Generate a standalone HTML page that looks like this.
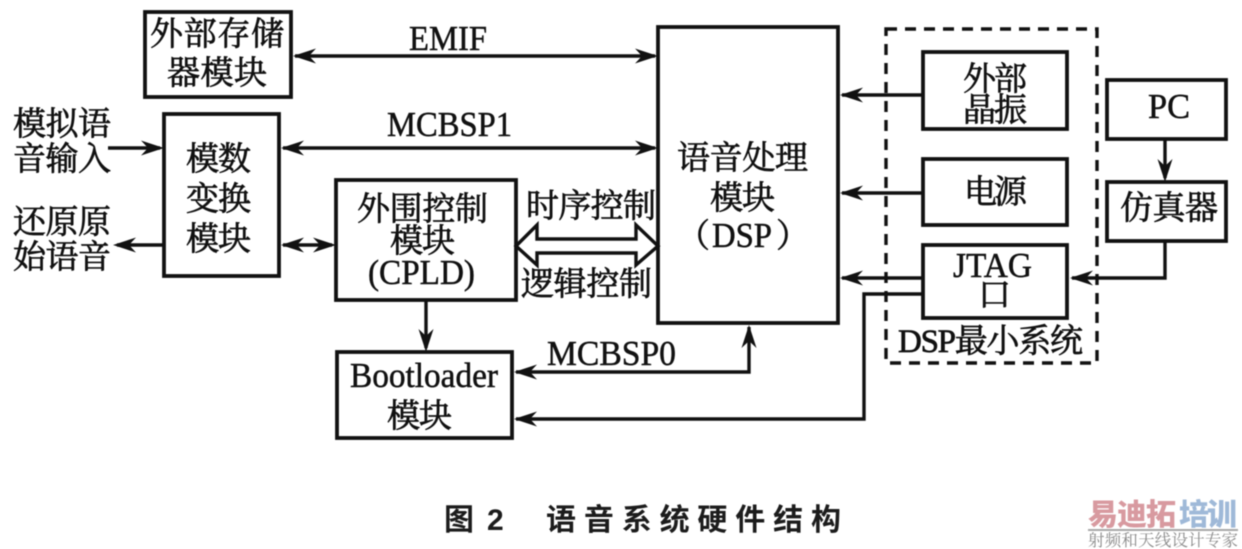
<!DOCTYPE html>
<html><head><meta charset="utf-8">
<style>
html,body{margin:0;padding:0;background:#fff;width:1242px;height:549px;overflow:hidden}
svg{display:block;filter:blur(.4px)}
.c{font-family:"Liberation Serif","Noto Serif CJK SC",serif;font-size:33px;fill:#111;stroke:#111;stroke-width:.7}
.l{font-family:"Liberation Serif","Noto Serif CJK SC",serif;font-size:35px;fill:#111;stroke:#111;stroke-width:.5}
.b{fill:#fff;stroke:#111;stroke-width:3.8}
.w{fill:none;stroke:#111;stroke-width:3.4}
.cap{font-family:"Liberation Sans","Noto Sans CJK SC",sans-serif;font-size:30px;font-weight:700;fill:#1c1c1c}
.wm{font-family:"Liberation Sans","Noto Sans CJK SC",sans-serif;font-size:30px;font-weight:900}
.wn{font-family:"Liberation Serif","Noto Serif CJK SC",serif;font-size:16.5px;fill:#8a8a8a}
</style></head><body>
<svg width="1242" height="549" viewBox="0 0 1242 549" xmlns="http://www.w3.org/2000/svg">
<defs><path id="h" d="M0 0L-23 -7.5L-16 0L-23 7.5Z" fill="#111"/></defs>

<!-- connectors -->
<path class="w" d="M295 56H655M283 148H655M108 148H160M117 245H164M283 245H332M426 300V348M516 372H749V327M516 419H864V294H923M842 95H923M842 193H923M842 278H923M1165 139V178M1165 241V278H1072"/>
<use href="#h" transform="translate(293,56) rotate(180)"/>
<use href="#h" transform="translate(658,56)"/>
<use href="#h" transform="translate(281,148) rotate(180)"/>
<use href="#h" transform="translate(658,148)"/>
<use href="#h" transform="translate(164,148)"/>
<use href="#h" transform="translate(113,245) rotate(180)"/>
<use href="#h" transform="translate(281,245) rotate(180)"/>
<use href="#h" transform="translate(336,245)"/>
<use href="#h" transform="translate(426,352) rotate(90)"/>
<use href="#h" transform="translate(514,372) rotate(180)"/>
<use href="#h" transform="translate(514,419) rotate(180)"/>
<use href="#h" transform="translate(749,325) rotate(-90)"/>
<use href="#h" transform="translate(840,95) rotate(180)"/>
<use href="#h" transform="translate(840,193) rotate(180)"/>
<use href="#h" transform="translate(840,278) rotate(180)"/>
<use href="#h" transform="translate(1165,182) rotate(90)"/>
<use href="#h" transform="translate(1070,278) rotate(180)"/>

<!-- dashed frame -->
<rect x="886" y="29" width="211" height="334" fill="none" stroke="#111" stroke-width="3.4" stroke-dasharray="11 8"/>

<!-- boxes -->
<rect class="b" x="145" y="12" width="146" height="85"/>
<rect class="b" x="164" y="114" width="115" height="162"/>
<rect class="b" x="336" y="180" width="180" height="120"/>
<rect class="b" x="337" y="352" width="175" height="86"/>
<rect class="b" x="658" y="27" width="180" height="296"/>
<rect class="b" x="923" y="52" width="144" height="77"/>
<rect class="b" x="923" y="159" width="144" height="66"/>
<rect class="b" x="923" y="245" width="144" height="73"/>
<rect class="b" x="1107" y="80" width="119" height="59"/>
<rect class="b" x="1107" y="182" width="119" height="59"/>

<!-- hollow double arrow -->
<path d="M516 246L537 225V239H636V225L658 246L636 265V253H537V265Z" fill="#fff" stroke="#111" stroke-width="3.4" stroke-linejoin="miter"/>

<!-- labels -->
<text class="c" x="150" y="45" textLength="134">外部存储</text>
<text class="c" x="167" y="84" textLength="100">器模块</text>
<text class="c" x="13" y="135" textLength="98">模拟语</text>
<text class="c" x="13" y="170" textLength="98">音输入</text>
<text class="c" x="13" y="233" textLength="98">还原原</text>
<text class="c" x="13" y="268" textLength="98">始语音</text>
<text class="c" x="186" y="170" textLength="65">模数</text>
<text class="c" x="186" y="210" textLength="65">变换</text>
<text class="c" x="186" y="250" textLength="65">模块</text>
<text class="c" x="357" y="220" textLength="131">外围控制</text>
<text class="c" x="390" y="252" textLength="65">模块</text>
<text class="l" x="368" y="284" textLength="107" lengthAdjust="spacingAndGlyphs">(CPLD)</text>
<text class="c" x="526" y="217" textLength="130">时序控制</text>
<text class="c" x="521" y="295" textLength="131">逻辑控制</text>
<text class="l" x="350" y="387" textLength="148" lengthAdjust="spacingAndGlyphs">Bootloader</text>
<text class="c" x="387" y="427" textLength="65">模块</text>
<text class="c" x="677" y="169" textLength="131">语音处理</text>
<text class="c" x="710" y="209" textLength="65">模块</text>
<text class="c" x="677" y="247">（</text>
<text class="l" x="712" y="247" textLength="60" lengthAdjust="spacingAndGlyphs">DSP</text>
<text class="c" x="776" y="247">）</text>
<text class="l" x="409" y="50" textLength="78" lengthAdjust="spacingAndGlyphs">EMIF</text>
<text class="l" x="387" y="136" textLength="125" lengthAdjust="spacingAndGlyphs">MCBSP1</text>
<text class="l" x="547" y="365" textLength="129" lengthAdjust="spacingAndGlyphs">MCBSP0</text>
<text class="c" x="963" y="90" textLength="64">外部</text>
<text class="c" x="963" y="121" textLength="64">晶振</text>
<text class="c" x="964" y="203" textLength="63">电源</text>
<text class="l" x="953" y="277" textLength="79" lengthAdjust="spacingAndGlyphs">JTAG</text>
<text class="c" x="978" y="306">口</text>
<text class="l" x="1148" y="118" textLength="42" lengthAdjust="spacingAndGlyphs">PC</text>
<text class="c" x="1120" y="219" textLength="98">仿真器</text>
<text class="c" x="898" y="352" textLength="185">DSP最小系统</text>

<!-- caption -->
<text class="cap" x="444" y="530">图</text>
<text class="cap" x="487" y="530" style="font-family:'Liberation Sans',sans-serif">2</text>
<text class="cap" x="546" y="530" textLength="295">语音系统硬件结构</text>

<!-- watermark -->
<text class="wm" x="1088" y="525" textLength="88" fill="#d89aa0">易迪拓</text>
<text class="wm" x="1179" y="525" textLength="58" fill="#9fb9d8">培训</text>
<rect x="1088" y="529" width="150" height="2" fill="#a8a8a8"/>
<text class="wn" x="1088" y="546" textLength="150">射频和天线设计专家</text>
</svg>
</body></html>
